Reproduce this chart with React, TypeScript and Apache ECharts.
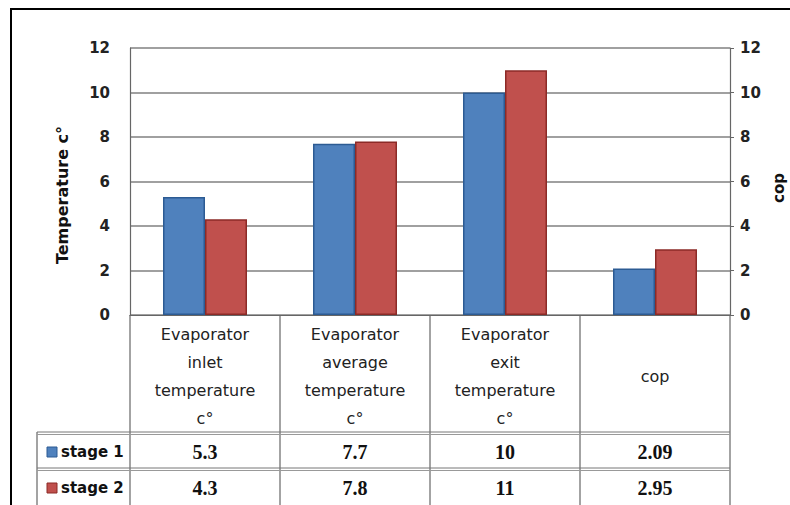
import React, { useEffect, useRef } from "react";
import * as echarts from "echarts";

// Chart data
const categories = [
  "Evaporator\ninlet\ntemperature\nc°",
  "Evaporator\naverage\ntemperature\nc°",
  "Evaporator\nexit\ntemperature\nc°",
  "cop",
];
const seriesNames = ["stage 1", "stage 2"];
const stage1 = [5.3, 7.7, 10, 2.09];
const stage2 = [4.3, 7.8, 11, 2.95];
const yMin = 0;
const yMax = 12;
const yStep = 2;

const seriesColors = ["#4F81BD", "#C0504D"];
const seriesBorders = ["#2C5B93", "#8C2A27"];

// Layout
const W = 790;
const H = 505;
const GRID_LEFT = 130;
const GRID_TOP = 48;
const GRID_RIGHT = 60;
const GRID_BOTTOM = 190;
const HEADER_BOTTOM = 433;
const ROW_SPLIT = 469;
const LEGEND_LEFT = 37;

export default function App() {
  const ref = useRef<HTMLDivElement>(null);

  useEffect(() => {
    document.body.style.margin = "0";
    if (!ref.current) return;
    const chart = echarts.init(ref.current, null, { renderer: "svg" });

    const plotRight = W - GRID_RIGHT;
    const plotBottom = H - GRID_BOTTOM;
    const colW = (plotRight - GRID_LEFT) / categories.length;
    const lineColor = "#666";
    const graphics: any[] = [];

    // outer frame (top and left edges)
    graphics.push({ type: "line", shape: { x1: 10, y1: 9, x2: W, y2: 9 }, style: { stroke: "#000", lineWidth: 2 } });
    graphics.push({ type: "line", shape: { x1: 11, y1: 8, x2: 11, y2: H }, style: { stroke: "#000", lineWidth: 2 } });

    // table column borders
    for (let i = 0; i <= categories.length; i++) {
      const x = GRID_LEFT + i * colW;
      graphics.push({ type: "line", shape: { x1: x, y1: plotBottom, x2: x, y2: H }, style: { stroke: lineColor, lineWidth: 1.2 } });
    }
    // legend column border
    graphics.push({ type: "line", shape: { x1: LEGEND_LEFT, y1: HEADER_BOTTOM - 1, x2: LEGEND_LEFT, y2: H }, style: { stroke: lineColor, lineWidth: 1.2 } });
    // row separators (double lines)
    [HEADER_BOTTOM, ROW_SPLIT].forEach((y) => {
      graphics.push({ type: "line", shape: { x1: LEGEND_LEFT, y1: y - 1, x2: plotRight, y2: y - 1 }, style: { stroke: "#777", lineWidth: 1 } });
      graphics.push({ type: "line", shape: { x1: LEGEND_LEFT, y1: y + 1.5, x2: plotRight, y2: y + 1.5 }, style: { stroke: "#999", lineWidth: 1 } });
    });

    // category headers
    categories.forEach((c, i) => {
      graphics.push({
        type: "text",
        x: GRID_LEFT + (i + 0.5) * colW,
        y: (plotBottom + HEADER_BOTTOM) / 2 + 2,
        style: {
          text: c,
          font: "16px 'DejaVu Sans'",
          lineHeight: 28,
          fill: "#222",
          align: "center",
          verticalAlign: "middle",
        },
      });
    });

    // data rows with legend keys
    const rows = [stage1, stage2];
    const rowCenters = [(HEADER_BOTTOM + ROW_SPLIT) / 2 + 1, (ROW_SPLIT + H) / 2 + 1];
    rows.forEach((vals, r) => {
      const cy = rowCenters[r];
      graphics.push({
        type: "rect",
        shape: { x: 47, y: cy - 5, width: 10, height: 10 },
        style: { fill: seriesColors[r], stroke: seriesBorders[r], lineWidth: 1 },
      });
      graphics.push({
        type: "text",
        x: 61,
        y: cy,
        style: { text: seriesNames[r], font: "bold 15px 'DejaVu Sans'", fill: "#111", align: "left", verticalAlign: "middle" },
      });
      vals.forEach((v, i) => {
        graphics.push({
          type: "text",
          x: GRID_LEFT + (i + 0.5) * colW,
          y: cy,
          style: { text: String(v), font: "bold 20px 'Liberation Serif'", fill: "#111", align: "center", verticalAlign: "middle" },
        });
      });
    });

    // axis titles
    graphics.push({
      type: "text",
      x: 62,
      y: 195,
      rotation: Math.PI / 2,
      style: { text: "Temperature c°", font: "bold 16px 'DejaVu Sans'", fill: "#111", align: "center", verticalAlign: "middle" },
    });
    graphics.push({
      type: "text",
      x: 779,
      y: 188,
      rotation: Math.PI / 2,
      style: { text: "cop", font: "bold 15px 'DejaVu Sans'", fill: "#111", align: "center", verticalAlign: "middle" },
    });

    const axisLabel = { fontFamily: "DejaVu Sans", fontWeight: "bold", fontSize: 15, color: "#222" };

    chart.setOption({
      animation: false,
      backgroundColor: "#fff",
      grid: { left: GRID_LEFT, top: GRID_TOP, right: GRID_RIGHT, bottom: GRID_BOTTOM },
      xAxis: {
        type: "category",
        data: categories,
        axisLabel: { show: false },
        axisTick: { show: false },
        axisLine: { lineStyle: { color: lineColor, width: 1.2 } },
      },
      yAxis: [
        {
          type: "value",
          min: yMin,
          max: yMax,
          interval: yStep,
          position: "left",
          axisLine: { show: true, lineStyle: { color: lineColor, width: 1.2 } },
          axisTick: { show: false },
          axisLabel: { ...axisLabel, margin: 20 },
          splitLine: { lineStyle: { color: "#808080", width: 1.5 } },
        },
        {
          type: "value",
          min: yMin,
          max: yMax,
          interval: yStep,
          position: "right",
          axisLine: { show: true, lineStyle: { color: lineColor, width: 1.2 } },
          axisTick: { show: true, length: 4, lineStyle: { color: lineColor } },
          axisLabel: { ...axisLabel, margin: 10 },
          splitLine: { show: false },
        },
      ],
      series: rows.map((vals, r) => ({
        type: "bar",
        name: seriesNames[r],
        data: vals,
        yAxisIndex: 0,
        barGap: "0%",
        barCategoryGap: "44%",
        itemStyle: { color: seriesColors[r], borderColor: seriesBorders[r], borderWidth: 1.5 },
      })),
      graphic: graphics,
    });

    return () => chart.dispose();
  }, []);

  return <div ref={ref} style={{ position: "fixed", left: 0, top: 0, width: W, height: H }} />;
}
